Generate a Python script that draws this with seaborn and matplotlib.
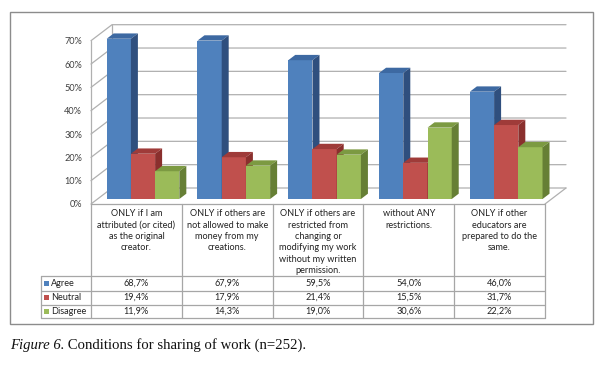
import matplotlib
matplotlib.use("Agg")
import matplotlib.pyplot as plt
import matplotlib.transforms as mtransforms
from matplotlib.lines import Line2D
from matplotlib.patches import Polygon, Rectangle
import pandas as pd
import seaborn as sns

# ---- data ------------------------------------------------------------------
conditions = [
    "ONLY if I am\nattributed (or cited)\nas the original\ncreator.",
    "ONLY if others are\nnot allowed to make\nmoney from my\ncreations.",
    "ONLY if others are\nrestricted from\nchanging or\nmodifying my work\nwithout my written\npermission.",
    "without ANY\nrestrictions.",
    "ONLY if other\neducators are\nprepared to do the\nsame.",
]
responses = ["Agree", "Neutral", "Disagree"]
agree = [68.7, 67.9, 59.5, 54.0, 46.0]
neutral = [19.4, 17.9, 21.4, 15.5, 31.7]
disagree = [11.9, 14.3, 19.0, 30.6, 22.2]
y_ticks = [0, 10, 20, 30, 40, 50, 60, 70]
caption_italic = "Figure 6."
caption_rest = " Conditions for sharing of work (n=252)."

front_colors = ["#4F81BD", "#C0504D", "#9BBB59"]
top_colors = ["#3D69A2", "#9F3B39", "#7C9A42"]
side_colors = ["#2F4F7E", "#8A2F2D", "#667F35"]

W, H = 605, 366
FONT = "Lato"
FS = 6.6
GRID = "#b0b0b0"
LINE = "#a6a6a6"

df = pd.DataFrame({
    "condition": conditions * 3,
    "response": [r for r in responses for _ in conditions],
    "pct": agree + neutral + disagree,
})

sns.set_theme(style="white")
plt.rcParams["font.family"] = [FONT, "DejaVu Sans"]

fig = plt.figure(figsize=(W / 100, H / 100), dpi=100)
# front plane of the 3D box: x from column edge 91 to 545 px, 0% at 204 px, 70% at 40.7 px
ax = fig.add_axes([91 / W, 1 - 204 / H, 454 / W, 163.3 / H])
ax.set_facecolor("none")

sns.barplot(data=df, x="condition", y="pct", hue="response", order=conditions,
            hue_order=responses, palette=front_colors, saturation=1, width=0.8,
            ax=ax, legend=False, linewidth=0)

ax.set_xlim(-0.5, len(conditions) - 0.5)
ax.set_ylim(0, 70)
for s in ax.spines.values():
    s.set_visible(False)
ax.set_xticks([])
ax.set_xlabel("")
ax.set_ylabel("")
ax.set_yticks(y_ticks)
ax.set_yticklabels([f"{t}%" for t in y_ticks], fontsize=FS, color="#404040")
ax.tick_params(axis="y", length=0, pad=6.5)

# pixel -> data unit conversion
sx = ax.bbox.width / len(conditions)
sy = ax.bbox.height / 70.0
wall_dx, wall_dy = 21 / sx, 16 / sy      # depth of the whole box
front_dx, front_dy = 6.6 / sx, 5.0 / sy  # bars stand inside the box
bar_dx, bar_dy = 7.0 / sx, 5.3 / sy      # depth of each bar

x_left, x_right = -0.5, len(conditions) - 0.5

# walls and grid
for t in y_ticks:
    ax.plot([x_left, x_left + wall_dx, x_right + wall_dx], [t, t + wall_dy, t + wall_dy],
            color=GRID, lw=0.9, clip_on=False, zorder=0.5)
ax.plot([x_left, x_left], [0, 70], color=GRID, lw=0.9, clip_on=False, zorder=0.5)
ax.plot([x_left + wall_dx] * 2, [wall_dy, 70 + wall_dy], color=GRID, lw=0.9,
        clip_on=False, zorder=0.5)
ax.plot([x_right, x_right + wall_dx], [0, wall_dy], color=GRID, lw=0.9,
        clip_on=False, zorder=0.5)

# extrude the seaborn bars
bars = []
for i, cont in enumerate(ax.containers):
    for rect in cont.patches:
        bars.append((rect.get_x(), i, rect))
bars.sort(key=lambda b: b[0])
for k, (_, i, rect) in enumerate(bars):
    z = 2 + k * 0.05
    x0 = rect.get_x() + front_dx
    w = rect.get_width()
    h = rect.get_height()
    rect.set_x(x0)
    rect.set_y(front_dy)
    rect.set_zorder(z)
    rect.set_clip_on(False)
    y0, y1 = front_dy, front_dy + h
    top = Polygon([(x0, y1), (x0 + w, y1), (x0 + w + bar_dx, y1 + bar_dy),
                   (x0 + bar_dx, y1 + bar_dy)], closed=True, facecolor=top_colors[i],
                  edgecolor="none", zorder=z, clip_on=False)
    side = Polygon([(x0 + w, y0), (x0 + w + bar_dx, y0 + bar_dy),
                    (x0 + w + bar_dx, y1 + bar_dy), (x0 + w, y1)], closed=True,
                   facecolor=side_colors[i], edgecolor="none", zorder=z, clip_on=False)
    ax.add_patch(top)
    ax.add_patch(side)

# ---- data table below the chart (pixel coords measured from top) ----------
ptr = mtransforms.Affine2D().scale(1, -1).translate(0, fig.bbox.height)
col_edges = [ax.transData.transform((x_left + j, 0))[0] for j in range(len(conditions) + 1)]
leg_left = 41
header_top, header_bottom = 204, 276
row_edges = [276, 290.5, 304.5, 318]


def hline(x0, x1, y, **kw):
    fig.add_artist(Line2D([x0, x1], [y, y], transform=ptr, color=LINE, lw=0.9, **kw))


def vline(x, y0, y1, **kw):
    fig.add_artist(Line2D([x, x], [y0, y1], transform=ptr, color=LINE, lw=0.9, **kw))


hline(col_edges[0], col_edges[-1], header_top)
for y in row_edges:
    hline(leg_left, col_edges[-1], y)
for x in col_edges:
    vline(x, header_top, row_edges[-1])
vline(leg_left, row_edges[0], row_edges[-1])

for j, label in enumerate(conditions):
    xc = (col_edges[j] + col_edges[j + 1]) / 2
    for n, line in enumerate(label.split("\n")):
        fig.text(xc, 214 + n * 11.3, line, transform=ptr, ha="center", va="center",
                 fontsize=FS, color="#222222")

series = [agree, neutral, disagree]
for i, name in enumerate(responses):
    yc = (row_edges[i] + row_edges[i + 1]) / 2
    fig.add_artist(Rectangle((44, yc + 2.5), 5, -5, transform=ptr,
                             facecolor=front_colors[i], edgecolor="none"))
    fig.text(51, yc, name, transform=ptr, ha="left", va="center", fontsize=FS,
             color="#222222")
    for j, v in enumerate(series[i]):
        xc = (col_edges[j] + col_edges[j + 1]) / 2
        fig.text(xc, yc, f"{v:.1f}".replace(".", ",") + "%", transform=ptr,
                 ha="center", va="center", fontsize=FS, color="#222222")

# chart border
fig.add_artist(Rectangle((10, 324), 583, -312, transform=ptr, facecolor="none",
                         edgecolor="#8c8c8c", lw=1))

# caption
t1 = fig.text(10, 345, caption_italic, transform=ptr, ha="left", va="center",
              fontsize=10.6, fontstyle="italic", family="Liberation Serif", color="#111111")
fig.canvas.draw()
bb = t1.get_window_extent()
fig.text(bb.x1, 345, caption_rest, transform=ptr, ha="left", va="center",
         fontsize=10.6, family="Liberation Serif", color="#111111")

fig.savefig("out.png", dpi=100)
